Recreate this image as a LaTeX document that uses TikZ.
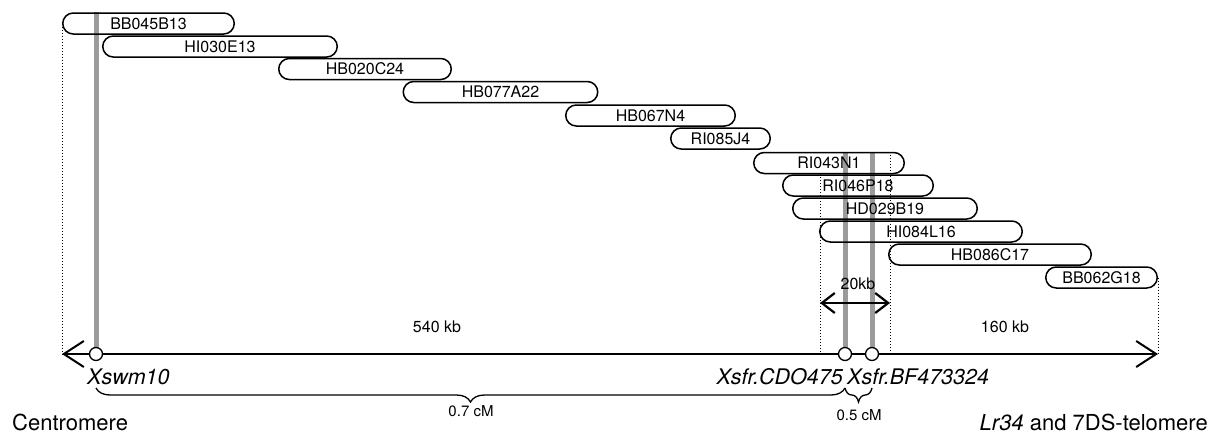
\documentclass[tikz,border=0pt]{standalone}
\usepackage{fontspec}
\setmainfont{TeX Gyre Heros}
\usepackage{tikz}
\usetikzlibrary{arrows.meta, positioning, backgrounds, shapes.misc,
                 decorations.pathreplacing}
\definecolor{markgray}{RGB}{155,155,155}
\tikzset{
  clone/.style={draw, rounded rectangle, line width=1.5pt, minimum height=21pt,
                inner sep=0pt, font=\fontsize{16}{18}\selectfont},
  locus/.style={draw, circle, fill=white, line width=1.3pt, minimum size=13pt,
                inner sep=0pt},
  locuslabel/.style={font=\fontsize{21.5}{24}\selectfont\itshape, inner sep=0pt},
  marker/.style={draw=markgray, line width=5pt},
  guide/.style={dash pattern=on 1pt off 2pt, line width=1pt},
  maparrow/.style={<->, line width=2pt},
  dimarrow/.style={{Straight Barb[length=13pt,width=20pt]}-{Straight Barb[length=13pt,width=20pt]},
                   line width=2.2pt},
  brace/.style={decorate, decoration={brace, mirror, amplitude=14pt}, line width=1.3pt},
  kblabel/.style={font=\fontsize{16}{18}\selectfont, inner sep=0pt},
  cmlabel/.style={font=\fontsize{15}{17}\selectfont, inner sep=0pt},
  endlabel/.style={font=\fontsize{22}{24}\selectfont, inner sep=0pt},
}

\begin{document}
\begin{tikzpicture}[x=1pt, y=-1pt, >={Straight Barb[length=20pt,width=26pt]}]
  \useasboundingbox (0,0) rectangle (1229,434);

  % BAC contig
  \node[clone, minimum width=171.5pt] (bb045) at (148.5,23.5) {BB045B13};
  \node[clone, minimum width=234.5pt] (hi030) at (220,46.5) {HI030E13};
  \node[clone, minimum width=172.5pt] (hb020) at (365,69) {HB020C24};
  \node[clone, minimum width=194.5pt] (hb077) at (500.5,92) {HB077A22};
  \node[clone, minimum width=169.5pt] (hb067) at (650.5,115.5) {HB067N4};
  \node[clone, minimum width=99.5pt] (ri085) at (720.5,138.5) {RI085J4};
  \node[clone, minimum width=150.5pt] (ri043) at (829,163) {RI043N1};
  \node[clone, minimum width=150.5pt] (ri046) at (858,185.5) {RI046P18};
  \node[clone, minimum width=184.5pt] (hd029) at (885,208.5) {HD029B19};
  \node[clone, minimum width=202.5pt] (hi084) at (921,231.5) {HI084L16};
  \node[clone, minimum width=202.5pt] (hb086) at (990,254.5) {HB086C17};
  \node[clone, minimum width=111.5pt] (bb062) at (1101.5,277.5) {BB062G18};

  % physical map
  \coordinate (cen) at (62,354);
  \coordinate (tel) at (1158,354);
  \coordinate (gl) at (820,174);
  \coordinate (gr) at (890,152);
  \draw[maparrow] (cen) -- (tel);
  \draw[guide] (bb045.west) -- (cen);
  \draw[guide] (bb062.east) -- (tel);
  \draw[guide] (gl) -- (gl |- cen);
  \draw[guide] (gr) -- (gr |- cen);

  \node[locus] (swm) at (96,354) {};
  \node[locus] (cdo) at (845,354) {};
  \node[locus] (bf) at (872,354) {};

  \begin{scope}[on background layer]
    \draw[marker] (bb045.north -| swm) -- (swm);
    \draw[marker] (ri043.north -| cdo) -- (cdo);
    \draw[marker] (ri043.north -| bf) -- (bf);
  \end{scope}

  \coordinate (w1) at (820,303);
  \coordinate (w2) at (890,303);
  \draw[dimarrow] (w1) -- (w2);
  \node[kblabel] (kb20) at (858,284) {20kb};
  \node[kblabel] (kb540) at (437,327) {540 kb};
  \node[kblabel] (kb160) at (1005,327) {160 kb};

  \node[locuslabel, anchor=west] (swmlab) at (87,377) {Xswm10};
  \node[locuslabel, anchor=east] (cdolab) at (843,377) {Xsfr.CDO475};
  \node[locuslabel, anchor=west] (bflab) at (847,377) {Xsfr.BF473324};

  % genetic distances
  \coordinate (b1) at (96,388);
  \coordinate (b2) at (845,388);
  \coordinate (b3) at (872,388);
  \draw[brace] (b1) -- (b2);
  \draw[brace] (b2) -- (b3);
  \node[cmlabel] (cm07) at (471,411) {0.7 cM};
  \node[cmlabel] (cm05) at (859,415) {0.5 cM};

  \node[endlabel, anchor=west] (centro) at (12,422) {Centromere};
  \node[endlabel, anchor=east] (telo) at (1208,422) {\textit{Lr34} and 7DS-telomere};
\end{tikzpicture}
\end{document}
